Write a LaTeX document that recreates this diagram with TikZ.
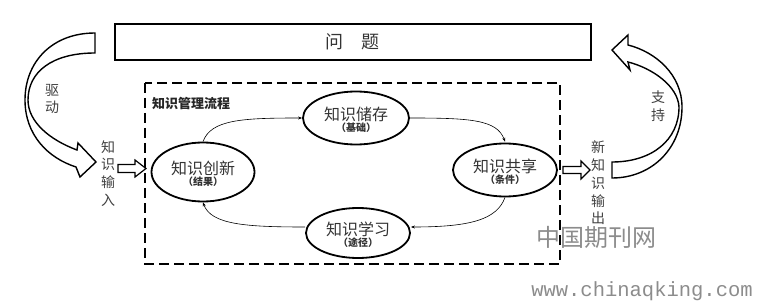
\documentclass[tikz,border=0pt]{standalone}
\usepackage{fontspec}
\newfontfamily\cjk{Noto Sans CJK SC}
\newfontfamily\monof{Liberation Mono}
\usetikzlibrary{shapes.geometric,arrows.meta}
\begin{document}
\begin{tikzpicture}[x=1pt,y=-1pt,
  kbox/.style={ellipse,draw,line width=1.8pt,inner sep=0pt},
  maintxt/.style={font={\cjk\fontsize{16}{16}\selectfont},text=black!80,inner sep=0pt},
  subtxt/.style={font={\cjk\bfseries\fontsize{10}{10}\selectfont},text=black!80,inner sep=0pt},
  conn/.style={line width=0.6pt,-{Stealth[length=4pt,width=3pt]}},
  bigarrow/.style={draw,line width=1.4pt,fill=white,line join=miter},
  smallarrow/.style={draw,line width=1.2pt,fill=white,line join=miter},
  lbl/.style={font={\cjk\fontsize{14}{17.8}\selectfont},align=center,text=black!75,inner sep=0pt},
  wm/.style={text=black!45,inner sep=0pt},
]
\useasboundingbox (0,0) rectangle (763,302);

% problem box
\node[draw,line width=2pt,minimum width=476pt,minimum height=36pt,inner sep=0pt] (prob) at (353,42) {};
\node[font={\cjk\fontsize{18}{18}\selectfont},text=black!80,inner sep=0pt] (probt) at (352,42) {问\hspace{18pt}题};

% dashed process box
\draw[line width=1.8pt,dash pattern=on 10pt off 5pt] (145,83) rectangle (560,264);
\node[font={\cjk\bfseries\fontsize{13}{13}\selectfont},text=black!85,anchor=west,inner sep=0pt] (kmp) at (152,104) {知识管理流程};

% ellipses
\node[kbox,minimum width=103pt,minimum height=59pt] (cx) at (203,172) {};
\node[kbox,minimum width=106pt,minimum height=53pt] (cc) at (356,118) {};
\node[kbox,minimum width=104pt,minimum height=53pt] (gx) at (505,170) {};
\node[kbox,minimum width=104pt,minimum height=50pt] (xx) at (358,233) {};

\node[maintxt] at ([yshift=4pt]cx.center) {知识创新};
\node[subtxt] at ([yshift=-10pt]cx.center) {（结果）};
\node[maintxt] at ([yshift=4pt]cc.center) {知识储存};
\node[subtxt] at ([yshift=-10pt]cc.center) {（基础）};
\node[maintxt] at ([yshift=4pt]gx.center) {知识共享};
\node[subtxt] at ([yshift=-10pt]gx.center) {（条件）};
\node[maintxt] at ([yshift=4pt]xx.center) {知识学习};
\node[subtxt] at ([yshift=-10pt]xx.center) {（途径）};

% cycle connectors
\draw[conn] (cx.north) .. controls +(8,-22) and +(-60,0) .. (cc.west);
\draw[conn] (cc.east) .. controls +(60,0) and +(-8,-22) .. ([yshift=1pt]gx.north);
\draw[conn] (gx.south) .. controls +(-8,22) and +(60,0) .. ([yshift=6pt]xx.east);
\draw[conn] ([yshift=6pt]xx.west) .. controls +(-60,0) and +(8,22) .. (cx.south);

% small block arrows
\draw[smallarrow] (118,164.5) -- (135,164.5) -- (135,160) -- (146,168.5) -- (135,177) -- (135,172.5) -- (118,172.5) -- cycle;
\draw[smallarrow] (563,166.5) -- (581,166.5) -- (581,161) -- (590,170) -- (581,179) -- (581,173.5) -- (563,173.5) -- cycle;

% big curved arrows
\draw[bigarrow] (95,33) .. controls (52,33) and (25,62) .. (25,100)
  .. controls (25,135) and (48,158) .. (76,167) -- (80,177) -- (96,162) -- (78,143) -- (77,150)
  .. controls (50,140) and (28,122) .. (28,100)
  .. controls (28,72) and (52,53) .. (95,53) -- cycle;
\draw[bigarrow] (612,178) .. controls (652,178) and (682,148) .. (682,107)
  .. controls (682,75) and (656,52) .. (628,45) -- (628,35) -- (612,50) -- (630,70) -- (628,62)
  .. controls (652,68) and (678,86) .. (679,107)
  .. controls (679,140) and (652,162) .. (612,162) -- cycle;

% labels
\node[lbl] (qd) at (52,99) {驱\\动};
\node[lbl] (zc) at (658,106) {支\\持};
\node[lbl] (in) at (108,173.5) {知\\识\\输\\入};
\node[lbl] (out) at (598,183) {新\\知\\识\\输\\出};

% watermark
\node[wm,font={\cjk\fontsize{24}{24}\selectfont}] (wm1) at (596,237) {中国期刊网};
\node[wm,font={\monof\fontsize{20.5}{20.5}\selectfont}] (wm2) at (642,291) {www.chinaqking.com};
\end{tikzpicture}
\end{document}
